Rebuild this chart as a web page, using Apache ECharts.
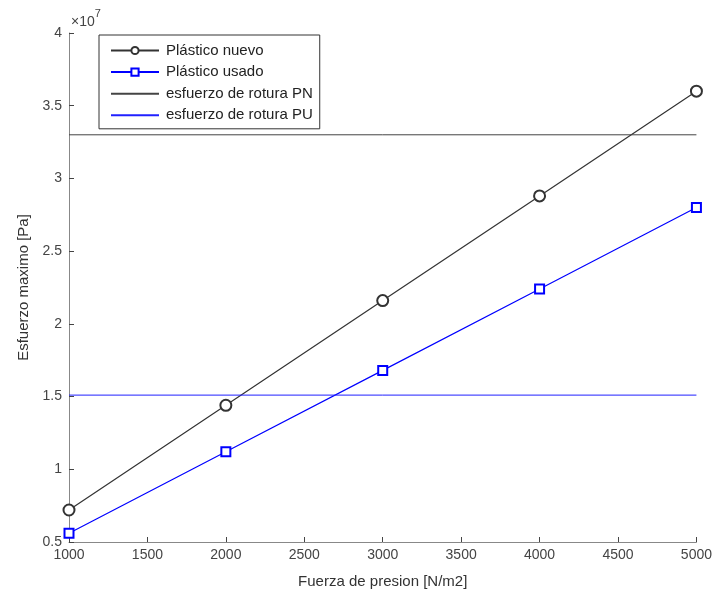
<!DOCTYPE html>
<html>
<head>
<meta charset="utf-8">
<script src="https://cdn.jsdelivr.net/npm/echarts@6/dist/echarts.min.js"></script>
<style>html,body{margin:0;padding:0;background:#fff}#c{width:715px;height:598px}</style>
</head>
<body>
<div id="c"></div>
<script>
const fuerza = [1000, 2000, 3000, 4000, 5000];
const plasticoNuevo = [0.72e7, 1.44e7, 2.16e7, 2.88e7, 3.60e7];
const plasticoUsado = [0.56e7, 1.12e7, 1.68e7, 2.24e7, 2.80e7];
const roturaPN = 3.3e7;
const roturaPU = 1.51e7;
const xRange = [1000, 5000];
const seriesNames = ['Plástico nuevo', 'Plástico usado', 'esfuerzo de rotura PN', 'esfuerzo de rotura PU'];

const chart = echarts.init(document.getElementById('c'));
const font = 'Liberation Sans, Arial, sans-serif';
const pair = (xs, ys) => xs.map((x, i) => [x, ys[i]]);

chart.setOption({
  animation: false,
  backgroundColor: '#fff',
  textStyle: { fontFamily: font },
  grid: { left: 69, right: 18, top: 33, bottom: 56 },
  legend: {
    orient: 'vertical',
    left: 99, top: 35,
    padding: [8, 7, 6, 11],
    itemGap: 6.6,
    itemWidth: 48, itemHeight: 9,
    borderColor: '#333', borderWidth: 1, borderRadius: 0,
    backgroundColor: '#fff',
    textStyle: { fontFamily: font, fontSize: 15, lineHeight: 14, color: '#222', padding: [0, 0, 0, 2] },
    data: [
      { name: seriesNames[0] },
      { name: seriesNames[1] },
      { name: seriesNames[2], itemStyle: { opacity: 0 } },
      { name: seriesNames[3], itemStyle: { opacity: 0 } }
    ]
  },
  xAxis: {
    type: 'value', min: 1000, max: 5000, interval: 500,
    name: 'Fuerza de presion [N/m2]', nameLocation: 'middle', nameGap: 32,
    nameTextStyle: { fontFamily: font, fontSize: 15, color: '#333' },
    axisLine: { onZero: false, lineStyle: { color: '#888' } },
    axisTick: { inside: true, length: 5, lineStyle: { color: '#444' } },
    axisLabel: { fontFamily: font, fontSize: 14, color: '#444', margin: 6, formatter: v => String(v) },
    splitLine: { show: false }
  },
  yAxis: {
    type: 'value', min: 0.5e7, max: 4e7, interval: 0.5e7,
    name: 'Esfuerzo maximo [Pa]', nameLocation: 'middle', nameGap: 38, nameRotate: 90,
    nameTextStyle: { fontFamily: font, fontSize: 15, color: '#333' },
    axisLine: { show: true, onZero: false, lineStyle: { color: '#888' } },
    axisTick: { show: true, inside: true, length: 5, lineStyle: { color: '#444' } },
    axisLabel: { fontFamily: font, fontSize: 14, color: '#444', margin: 7,
      formatter: v => String(+(v / 1e7).toFixed(1)) },
    splitLine: { show: false }
  },
  graphic: [{
    type: 'text', left: 71, top: 8,
    style: {
      text: '{a|×10}{b|7}', fontFamily: font,
      rich: { a: { fontSize: 14, fill: '#444', padding: [7, 0, 0, 0] }, b: { fontSize: 11, fill: '#444', verticalAlign: 'top' } }
    }
  }],
  series: [
    {
      name: seriesNames[0], type: 'line', data: pair(fuerza, plasticoNuevo),
      symbol: 'emptyCircle', symbolSize: 11, showAllSymbol: true,
      lineStyle: { color: '#333', width: 1.2 },
      itemStyle: { color: '#333', borderColor: '#333', borderWidth: 1.2 }
    },
    {
      name: seriesNames[1], type: 'line', data: pair(fuerza, plasticoUsado),
      symbol: 'emptyRect', symbolSize: 9, showAllSymbol: true,
      lineStyle: { color: '#0000ff', width: 1.2 },
      itemStyle: { color: '#0000ff', borderColor: '#0000ff', borderWidth: 1.2 }
    },
    {
      name: seriesNames[2], type: 'line', data: xRange.map(x => [x, roturaPN]),
      symbol: 'none', lineStyle: { color: '#444', width: 1 }, itemStyle: { color: '#444' }
    },
    {
      name: seriesNames[3], type: 'line', data: xRange.map(x => [x, roturaPU]),
      symbol: 'none', lineStyle: { color: '#2020ff', width: 1 }, itemStyle: { color: '#2020ff' }
    }
  ]
});
</script>
</body>
</html>
